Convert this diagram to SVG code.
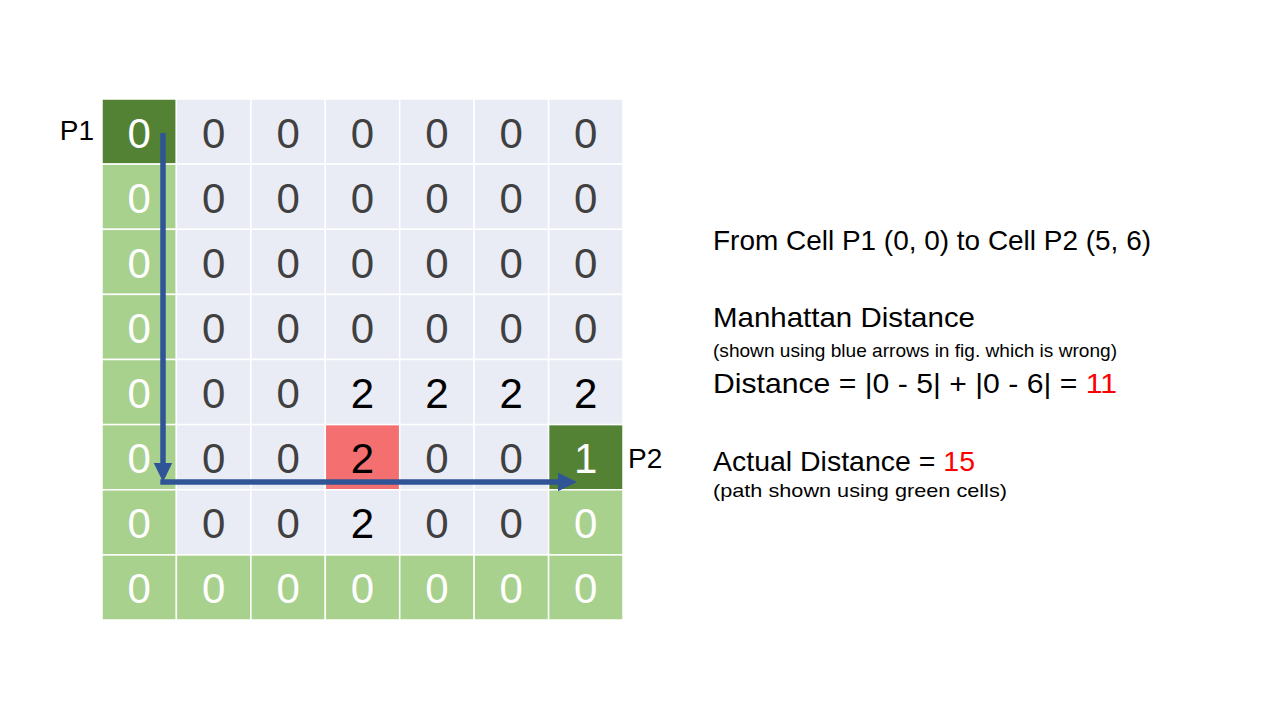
<svg xmlns="http://www.w3.org/2000/svg" width="1280" height="720" viewBox="0 0 1280 720">
<style>
rect{stroke:#fff;stroke-width:1.5}
.g{fill:#E9EBF5}.lg{fill:#A9D18E}.dg{fill:#548235}.rd{fill:#F46F6F}
.n{font-family:"Liberation Sans",Arial,sans-serif;font-size:42px;text-anchor:middle}
.d{fill:#404040}.w{fill:#fff}.k{fill:#000}
.t{font-family:"Liberation Sans",Arial,sans-serif;fill:#000}
.big{font-size:28px}.sm{font-size:19px}.red{fill:#FF0000}
</style>
<defs>
<marker id="ah" markerUnits="userSpaceOnUse" markerWidth="20" markerHeight="19" refX="0" refY="9.25" orient="auto" overflow="visible">
<path d="M0,0 L19,9.25 L0,18.5 z" fill="#2F5597"/>
</marker>
</defs>
<g id="grid">
<g id="c00"><rect class="dg" x="102" y="99" width="74.4" height="65.1"/><text class="n w" x="139.2" y="147.5">0</text></g>
<g id="c01"><rect class="g" x="176.4" y="99" width="74.5" height="65.1"/><text class="n d" x="213.6" y="147.5">0</text></g>
<g id="c02"><rect class="g" x="250.9" y="99" width="74.4" height="65.1"/><text class="n d" x="288.1" y="147.5">0</text></g>
<g id="c03"><rect class="g" x="325.3" y="99" width="74.4" height="65.1"/><text class="n d" x="362.5" y="147.5">0</text></g>
<g id="c04"><rect class="g" x="399.7" y="99" width="74.4" height="65.1"/><text class="n d" x="436.9" y="147.5">0</text></g>
<g id="c05"><rect class="g" x="474.1" y="99" width="74.5" height="65.1"/><text class="n d" x="511.3" y="147.5">0</text></g>
<g id="c06"><rect class="g" x="548.6" y="99" width="74.4" height="65.1"/><text class="n d" x="585.8" y="147.5">0</text></g>

<g id="c10"><rect class="lg" x="102" y="164.1" width="74.4" height="65.2"/><text class="n w" x="139.2" y="212.6">0</text></g>
<g id="c11"><rect class="g" x="176.4" y="164.1" width="74.5" height="65.2"/><text class="n d" x="213.6" y="212.6">0</text></g>
<g id="c12"><rect class="g" x="250.9" y="164.1" width="74.4" height="65.2"/><text class="n d" x="288.1" y="212.6">0</text></g>
<g id="c13"><rect class="g" x="325.3" y="164.1" width="74.4" height="65.2"/><text class="n d" x="362.5" y="212.6">0</text></g>
<g id="c14"><rect class="g" x="399.7" y="164.1" width="74.4" height="65.2"/><text class="n d" x="436.9" y="212.6">0</text></g>
<g id="c15"><rect class="g" x="474.1" y="164.1" width="74.5" height="65.2"/><text class="n d" x="511.3" y="212.6">0</text></g>
<g id="c16"><rect class="g" x="548.6" y="164.1" width="74.4" height="65.2"/><text class="n d" x="585.8" y="212.6">0</text></g>

<g id="c20"><rect class="lg" x="102" y="229.3" width="74.4" height="65.1"/><text class="n w" x="139.2" y="277.8">0</text></g>
<g id="c21"><rect class="g" x="176.4" y="229.3" width="74.5" height="65.1"/><text class="n d" x="213.6" y="277.8">0</text></g>
<g id="c22"><rect class="g" x="250.9" y="229.3" width="74.4" height="65.1"/><text class="n d" x="288.1" y="277.8">0</text></g>
<g id="c23"><rect class="g" x="325.3" y="229.3" width="74.4" height="65.1"/><text class="n d" x="362.5" y="277.8">0</text></g>
<g id="c24"><rect class="g" x="399.7" y="229.3" width="74.4" height="65.1"/><text class="n d" x="436.9" y="277.8">0</text></g>
<g id="c25"><rect class="g" x="474.1" y="229.3" width="74.5" height="65.1"/><text class="n d" x="511.3" y="277.8">0</text></g>
<g id="c26"><rect class="g" x="548.6" y="229.3" width="74.4" height="65.1"/><text class="n d" x="585.8" y="277.8">0</text></g>

<g id="c30"><rect class="lg" x="102" y="294.4" width="74.4" height="65.1"/><text class="n w" x="139.2" y="342.9">0</text></g>
<g id="c31"><rect class="g" x="176.4" y="294.4" width="74.5" height="65.1"/><text class="n d" x="213.6" y="342.9">0</text></g>
<g id="c32"><rect class="g" x="250.9" y="294.4" width="74.4" height="65.1"/><text class="n d" x="288.1" y="342.9">0</text></g>
<g id="c33"><rect class="g" x="325.3" y="294.4" width="74.4" height="65.1"/><text class="n d" x="362.5" y="342.9">0</text></g>
<g id="c34"><rect class="g" x="399.7" y="294.4" width="74.4" height="65.1"/><text class="n d" x="436.9" y="342.9">0</text></g>
<g id="c35"><rect class="g" x="474.1" y="294.4" width="74.5" height="65.1"/><text class="n d" x="511.3" y="342.9">0</text></g>
<g id="c36"><rect class="g" x="548.6" y="294.4" width="74.4" height="65.1"/><text class="n d" x="585.8" y="342.9">0</text></g>

<g id="c40"><rect class="lg" x="102" y="359.5" width="74.4" height="65.1"/><text class="n w" x="139.2" y="408">0</text></g>
<g id="c41"><rect class="g" x="176.4" y="359.5" width="74.5" height="65.1"/><text class="n d" x="213.6" y="408">0</text></g>
<g id="c42"><rect class="g" x="250.9" y="359.5" width="74.4" height="65.1"/><text class="n d" x="288.1" y="408">0</text></g>
<g id="c43"><rect class="g" x="325.3" y="359.5" width="74.4" height="65.1"/><text class="n k" x="362.5" y="408">2</text></g>
<g id="c44"><rect class="g" x="399.7" y="359.5" width="74.4" height="65.1"/><text class="n k" x="436.9" y="408">2</text></g>
<g id="c45"><rect class="g" x="474.1" y="359.5" width="74.5" height="65.1"/><text class="n k" x="511.3" y="408">2</text></g>
<g id="c46"><rect class="g" x="548.6" y="359.5" width="74.4" height="65.1"/><text class="n k" x="585.8" y="408">2</text></g>

<g id="c50"><rect class="lg" x="102" y="424.6" width="74.4" height="65.2"/><text class="n w" x="139.2" y="473.1">0</text></g>
<g id="c51"><rect class="g" x="176.4" y="424.6" width="74.5" height="65.2"/><text class="n d" x="213.6" y="473.1">0</text></g>
<g id="c52"><rect class="g" x="250.9" y="424.6" width="74.4" height="65.2"/><text class="n d" x="288.1" y="473.1">0</text></g>
<g id="c53"><rect class="rd" x="325.3" y="424.6" width="74.4" height="65.2"/><text class="n k" x="362.5" y="473.1">2</text></g>
<g id="c54"><rect class="g" x="399.7" y="424.6" width="74.4" height="65.2"/><text class="n d" x="436.9" y="473.1">0</text></g>
<g id="c55"><rect class="g" x="474.1" y="424.6" width="74.5" height="65.2"/><text class="n d" x="511.3" y="473.1">0</text></g>
<g id="c56"><rect class="dg" x="548.6" y="424.6" width="74.4" height="65.2"/><text class="n w" x="585.8" y="473.1">1</text></g>

<g id="c60"><rect class="lg" x="102" y="489.8" width="74.4" height="65.1"/><text class="n w" x="139.2" y="538.3">0</text></g>
<g id="c61"><rect class="g" x="176.4" y="489.8" width="74.5" height="65.1"/><text class="n d" x="213.6" y="538.3">0</text></g>
<g id="c62"><rect class="g" x="250.9" y="489.8" width="74.4" height="65.1"/><text class="n d" x="288.1" y="538.3">0</text></g>
<g id="c63"><rect class="g" x="325.3" y="489.8" width="74.4" height="65.1"/><text class="n k" x="362.5" y="538.3">2</text></g>
<g id="c64"><rect class="g" x="399.7" y="489.8" width="74.4" height="65.1"/><text class="n d" x="436.9" y="538.3">0</text></g>
<g id="c65"><rect class="g" x="474.1" y="489.8" width="74.5" height="65.1"/><text class="n d" x="511.3" y="538.3">0</text></g>
<g id="c66"><rect class="lg" x="548.6" y="489.8" width="74.4" height="65.1"/><text class="n w" x="585.8" y="538.3">0</text></g>

<g id="c70"><rect class="lg" x="102" y="554.9" width="74.4" height="65.1"/><text class="n w" x="139.2" y="603.4">0</text></g>
<g id="c71"><rect class="lg" x="176.4" y="554.9" width="74.5" height="65.1"/><text class="n w" x="213.6" y="603.4">0</text></g>
<g id="c72"><rect class="lg" x="250.9" y="554.9" width="74.4" height="65.1"/><text class="n w" x="288.1" y="603.4">0</text></g>
<g id="c73"><rect class="lg" x="325.3" y="554.9" width="74.4" height="65.1"/><text class="n w" x="362.5" y="603.4">0</text></g>
<g id="c74"><rect class="lg" x="399.7" y="554.9" width="74.4" height="65.1"/><text class="n w" x="436.9" y="603.4">0</text></g>
<g id="c75"><rect class="lg" x="474.1" y="554.9" width="74.5" height="65.1"/><text class="n w" x="511.3" y="603.4">0</text></g>
<g id="c76"><rect class="lg" x="548.6" y="554.9" width="74.4" height="65.1"/><text class="n w" x="585.8" y="603.4">0</text></g>
</g>
<g id="connectors" fill="none" stroke="#2F5597" stroke-width="5.5">
<line x1="163" y1="133" x2="163" y2="463" marker-end="url(#ah)"/>
<line x1="160.3" y1="482" x2="558" y2="482" marker-end="url(#ah)"/>
</g>
<g id="labels">
<text class="t big" x="94" y="140" text-anchor="end">P1</text>
<text class="t big" x="628" y="468">P2</text>
</g>
<g id="explanation">
<text class="t big" x="713" y="250" textLength="438" lengthAdjust="spacingAndGlyphs">From Cell P1 (0, 0) to Cell P2 (5, 6)</text>
<text class="t big" x="713" y="327" textLength="262" lengthAdjust="spacingAndGlyphs">Manhattan Distance</text>
<text class="t sm" x="713" y="357" textLength="404" lengthAdjust="spacingAndGlyphs">(shown using blue arrows in fig. which is wrong)</text>
<text class="t big" x="713" y="393" textLength="404" lengthAdjust="spacingAndGlyphs">Distance = |0 - 5| + |0 - 6| = <tspan class="red">11</tspan></text>
<text class="t big" x="713" y="471" textLength="262" lengthAdjust="spacingAndGlyphs">Actual Distance = <tspan class="red">15</tspan></text>
<text class="t sm" x="713" y="497" textLength="294" lengthAdjust="spacingAndGlyphs">(path shown using green cells)</text>
</g>
</svg>
